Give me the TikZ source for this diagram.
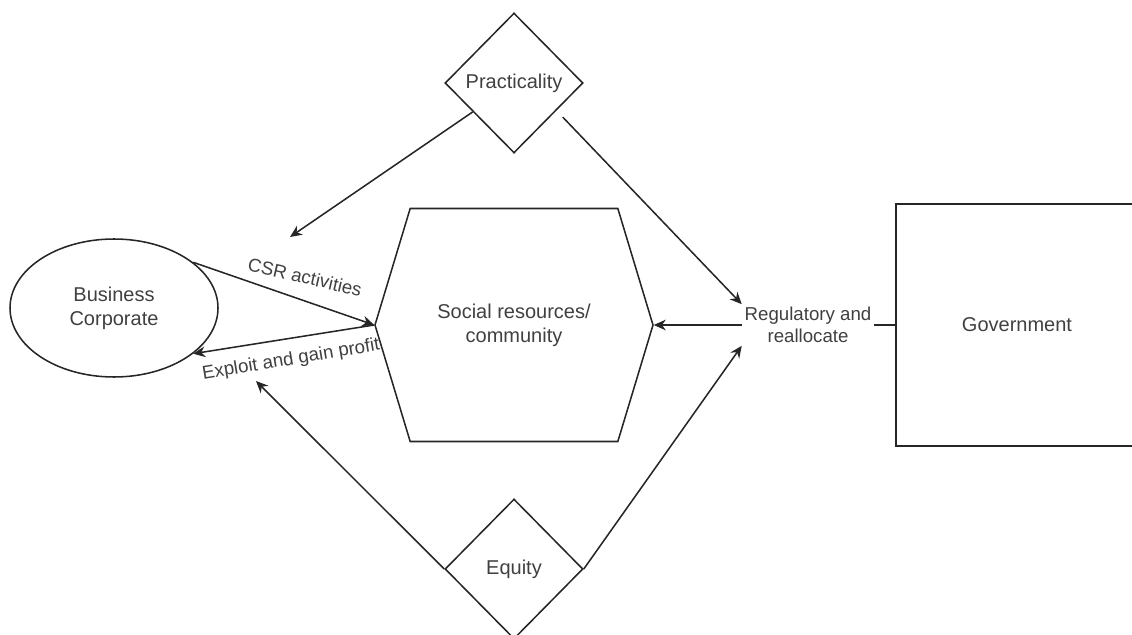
\documentclass[tikz,border=0pt]{standalone}
\usepackage{fontspec}
\setmainfont{Liberation Sans}
\usetikzlibrary{shapes.geometric,shapes.symbols,arrows.meta}

\begin{document}
\begin{tikzpicture}[
  x=0.75pt, y=-0.75pt,
  font=\fontsize{15}{18}\selectfont,
  linea/.style={draw=black!85, line width=1.15pt},
  rombo/.style={diamond, linea, inner sep=0pt, text=black!75,
                minimum width=103.5pt, minimum height=105pt},
  elipse/.style={ellipse, linea, inner sep=0pt, align=center, text=black!75,
                 minimum width=156pt, minimum height=103.5pt},
  hexa/.style={signal, signal to=west and east, signal pointer angle=146.4,
               linea, inner sep=0pt, align=center, text=black!75,
               minimum width=208.5pt, minimum height=174.75pt},
  caja/.style={rectangle, linea, text=black!75,
               minimum width=181.5pt, minimum height=181.5pt},
  etiq/.style={font=\fontsize{14}{16.5}\selectfont, align=center,
               inner sep=2pt, text=black!75},
  arr/.style={linea, -{Stealth[length=9pt,width=8pt]}}
]
\clip (0,0) rectangle (1132,635);

% --- Nodos ---
\node[rombo] (prac) at (514,83) {Practicality};
\node[rombo] (eq) at (514,569) {Equity};
\node[elipse] (bc) at (114,308) {Business\\Corporate};
\node[hexa] (soc) at (514,325) {Social resources/\\community};
\node[caja] (gov) at (1017,325) {Government};
\node[etiq] (reg) at (808,325) {Regulatory and\\reallocate};

% --- Extremos libres ---
\coordinate (csrtip) at (290,237);
\coordinate (exptip) at (256,381);

% --- Relaciones ---
\draw[arr] (bc.30) -- (soc.west);
\draw[arr] (soc.west) -- (bc.-30);
\node[etiq, rotate=-13] (csr) at (305,277) {CSR activities};
\node[etiq, rotate=9.5] (expl) at (291,360) {Exploit and gain profit};

\draw[arr] (reg.west) -- (soc.east);
\draw[linea] (gov.west) -- (reg.east);

\draw[arr] (prac.-145) -- (csrtip);
\draw[arr, shorten <=6.7pt] (prac.-33) -- (reg.north west);
\draw[arr] (eq.west) -- (exptip);
\draw[arr] (eq.east) -- (reg.south west);

\end{tikzpicture}
\end{document}
